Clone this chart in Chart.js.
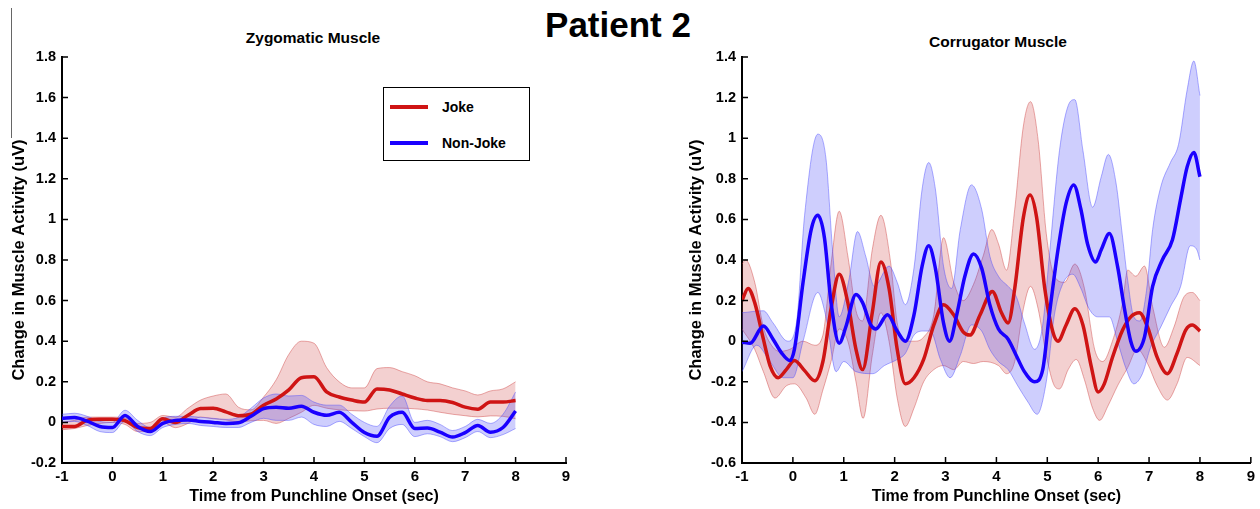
<!DOCTYPE html>
<html>
<head>
<meta charset="utf-8">
<script src="https://cdn.jsdelivr.net/npm/chart.js@4.4.0/dist/chart.umd.min.js"></script>
<style>
  body { margin: 0; width: 1260px; height: 509px; position: relative; overflow: hidden; background: #fff;
         font-family: "Liberation Sans", Arial, sans-serif; color: #000; }
  .abs { position: absolute; }
  #mainTitle { left: 0; width: 1236px; top: 4px; text-align: center; font-weight: bold; font-size: 35px; line-height: 42px; }
  .sub { width: 240px; text-align: center; font-weight: bold; font-size: 15.5px; line-height: 18px; }
  #legend { left: 383px; top: 87px; width: 145px; height: 72px; border: 1.5px solid #000; background: #fff; }
  .item { position: absolute; left: 0; height: 16px; font-weight: bold; font-size: 14px; line-height: 16px; }
  .swatch { position: absolute; left: 6px; top: 6px; width: 38px; height: 4px; }
  .item span { position: absolute; left: 58px; top: 0; white-space: nowrap; }
  #edge { left: 11px; top: 8px; width: 1px; height: 130px; background: #666; }
</style>
</head>
<body>
<div id="edge" class="abs"></div>
<div id="mainTitle" class="abs">Patient 2</div>
<div class="abs sub" style="left:193px; top:29px;">Zygomatic Muscle</div>
<div class="abs sub" style="left:878px; top:33px;">Corrugator Muscle</div>
<div class="abs" style="left:0; top:0; width:620px; height:509px;"><canvas id="zyg"></canvas></div>
<div class="abs" style="left:630px; top:0; width:630px; height:509px;"><canvas id="corr"></canvas></div>
<div id="legend" class="abs"></div>
<script>
// zygomatic muscle (left), sampled every 0.25 s
var zygTime = [-1,-0.75,-0.5,-0.25,0,0.25,0.5,0.75,1,1.25,1.5,1.75,2,2.25,2.5,2.75,3,3.25,3.5,3.75,4,4.25,4.5,4.75,5,5.25,5.5,5.75,6,6.25,6.5,6.75,7,7.25,7.5,7.75,8];
var zygJokeMean = [-0.02,-0.02,0.01,0.015,0.015,0.008,-0.025,-0.03,0.018,0.0,0.035,0.068,0.07,0.052,0.033,0.04,0.085,0.115,0.16,0.22,0.225,0.15,0.125,0.11,0.1,0.165,0.16,0.14,0.12,0.108,0.108,0.098,0.075,0.065,0.1,0.1,0.108];
var zygJokeUpper = [0.0,0.01,0.026,0.026,0.026,0.022,-0.005,0.0,0.034,0.026,0.07,0.11,0.13,0.14,0.075,0.062,0.125,0.21,0.335,0.4,0.39,0.27,0.2,0.17,0.17,0.265,0.27,0.25,0.23,0.2,0.19,0.17,0.155,0.135,0.155,0.165,0.2];
var zygJokeLower = [-0.036,-0.03,-0.015,-0.005,0.0,-0.01,-0.045,-0.045,0.0,-0.026,-0.005,0.026,0.018,0.012,0.002,0.008,0.01,-0.005,0.02,0.05,0.084,0.07,0.062,0.058,0.056,0.066,0.07,0.07,0.067,0.061,0.05,0.04,0.033,0.027,0.032,0.03,0.018];
var zygNonMean = [0.02,0.024,0.006,-0.02,-0.025,0.034,-0.02,-0.045,-0.005,0.01,0.012,0.005,0.0,-0.005,-0.002,0.03,0.068,0.075,0.07,0.08,0.05,0.035,0.05,0.0,-0.05,-0.068,0.025,0.05,-0.03,-0.028,-0.048,-0.072,-0.05,-0.015,-0.048,-0.025,0.056];
var zygNonUpper = [0.04,0.045,0.03,0.005,0.0,0.06,0.01,-0.025,0.02,0.03,0.03,0.025,0.02,0.015,0.025,0.07,0.12,0.14,0.13,0.133,0.1,0.085,0.085,0.04,0.0,-0.02,0.08,0.13,0.0,0.01,-0.01,-0.04,-0.02,0.015,-0.005,0.04,0.15];
var zygNonLower = [0.0,0.005,-0.015,-0.045,-0.05,0.005,-0.045,-0.065,-0.025,-0.01,-0.005,-0.015,-0.02,-0.025,-0.025,0.0,0.02,0.01,0.01,0.026,-0.01,-0.02,0.005,-0.03,-0.07,-0.1,-0.03,-0.01,-0.07,-0.056,-0.07,-0.095,-0.075,-0.045,-0.075,-0.06,-0.03];

// corrugator muscle (right), read at the turning points of each curve
var corrJokeT = [-1,-0.88,-0.75,-0.58,-0.45,-0.29,-0.13,0.03,0.23,0.43,0.59,0.75,0.91,1.08,1.24,1.37,1.56,1.73,1.89,2.05,2.21,2.38,2.57,2.77,2.96,3.16,3.35,3.48,3.68,3.92,4.1,4.23,4.36,4.53,4.66,4.79,4.95,5.11,5.21,5.37,5.54,5.7,5.86,6.0,6.12,6.28,6.48,6.64,6.81,6.97,7.16,7.36,7.55,7.72,7.85,8.0];
var corrJokeMean = [0.2,0.26,0.19,0.01,-0.12,-0.18,-0.14,-0.095,-0.145,-0.195,-0.1,0.16,0.33,0.19,-0.04,-0.14,0.14,0.39,0.26,-0.04,-0.21,-0.18,-0.09,0.08,0.18,0.13,0.045,0.03,0.13,0.245,0.14,0.09,0.26,0.61,0.72,0.61,0.26,0.045,0.0,0.08,0.16,0.08,-0.12,-0.25,-0.21,-0.08,0.055,0.12,0.14,0.07,-0.08,-0.16,-0.06,0.055,0.08,0.05];
var corrJokeUpT = [-1,-0.93,-0.75,-0.58,-0.42,-0.26,-0.06,0.2,0.43,0.59,0.75,0.91,1.08,1.24,1.37,1.56,1.73,1.92,2.05,2.21,2.38,2.57,2.77,2.96,3.16,3.35,3.55,3.74,3.91,4.04,4.2,4.36,4.53,4.67,4.82,4.98,5.14,5.34,5.54,5.73,5.93,6.09,6.28,6.48,6.58,6.74,6.91,7.07,7.3,7.49,7.69,7.85,8.0];
var corrJokeUp = [0.38,0.4,0.29,0.07,-0.02,-0.05,-0.04,0.0,-0.02,0.03,0.38,0.64,0.42,0.15,0.1,0.45,0.62,0.39,0.09,0.0,0.0,0.02,0.13,0.51,0.29,0.2,0.28,0.42,0.55,0.48,0.35,0.65,1.06,1.18,0.99,0.53,0.32,0.29,0.38,0.26,-0.04,-0.1,0.0,0.19,0.35,0.32,0.37,0.17,-0.03,0.07,0.22,0.24,0.2];
var corrJokeLoT = [-1,-0.75,-0.58,-0.35,-0.13,0.03,0.26,0.43,0.59,0.75,0.91,1.08,1.24,1.38,1.56,1.73,1.89,2.05,2.21,2.38,2.57,2.77,2.96,3.16,3.35,3.55,3.74,4.04,4.2,4.36,4.53,4.67,4.82,4.98,5.14,5.24,5.41,5.57,5.73,5.89,6.03,6.19,6.38,6.58,6.77,6.97,7.16,7.36,7.55,7.75,8.0];
var corrJokeLo = [0.06,-0.04,-0.15,-0.28,-0.22,-0.21,-0.28,-0.36,-0.24,-0.1,0.06,0.0,-0.2,-0.38,-0.07,0.14,0.0,-0.28,-0.42,-0.33,-0.2,-0.14,-0.12,-0.14,-0.1,-0.11,-0.1,-0.12,-0.16,-0.1,0.16,0.27,0.16,-0.07,-0.22,-0.235,-0.14,-0.09,-0.19,-0.33,-0.39,-0.32,-0.22,-0.13,-0.04,-0.11,-0.22,-0.29,-0.21,-0.08,-0.12];
var corrNonT = [-1,-0.84,-0.58,-0.39,-0.23,-0.06,0.03,0.2,0.36,0.49,0.62,0.75,0.91,1.04,1.24,1.37,1.53,1.63,1.86,2.05,2.21,2.38,2.54,2.67,2.8,2.96,3.08,3.22,3.38,3.55,3.71,3.87,4.04,4.23,4.39,4.55,4.75,4.91,5.04,5.21,5.37,5.52,5.66,5.79,5.95,6.06,6.22,6.38,6.51,6.64,6.74,6.91,7.07,7.26,7.46,7.62,7.75,7.88,8.0];
var corrNonMean = [-0.005,-0.01,0.075,0.01,-0.055,-0.095,-0.04,0.29,0.55,0.62,0.51,0.19,-0.01,0.07,0.23,0.19,0.08,0.06,0.13,0.05,0.0,0.13,0.37,0.47,0.36,0.09,0.0,0.13,0.32,0.43,0.36,0.18,0.06,0.01,-0.07,-0.15,-0.2,-0.14,0.13,0.45,0.68,0.77,0.65,0.48,0.39,0.45,0.53,0.37,0.17,0.0,-0.05,0.02,0.27,0.4,0.5,0.7,0.86,0.93,0.81];
var corrNonUpT = [-1,-0.58,-0.39,-0.1,0.07,0.23,0.49,0.65,0.78,0.91,1.1,1.27,1.43,1.6,1.89,2.05,2.21,2.38,2.54,2.67,2.8,2.96,3.12,3.29,3.51,3.71,3.87,4.04,4.23,4.39,4.55,4.75,4.91,5.04,5.24,5.41,5.54,5.7,5.89,6.06,6.2,6.35,6.48,6.58,6.7,6.82,6.95,7.07,7.23,7.42,7.58,7.75,7.88,8.0];
var corrNonUp = [0.14,0.15,0.09,0.0,0.09,0.62,1.02,0.9,0.45,0.12,0.3,0.54,0.42,0.27,0.37,0.29,0.18,0.36,0.75,0.88,0.75,0.37,0.26,0.55,0.77,0.65,0.42,0.32,0.27,0.22,0.09,-0.04,0.08,0.42,0.94,1.16,1.19,0.94,0.66,0.81,0.92,0.78,0.51,0.3,0.12,0.1,0.25,0.55,0.76,0.88,0.97,1.24,1.38,1.21];
var corrNonLoT = [-1,-0.71,-0.45,-0.19,0.0,0.2,0.49,0.65,0.85,1.0,1.24,1.57,1.8,2.05,2.21,2.38,2.57,2.7,2.9,3.09,3.29,3.51,3.71,3.87,4.04,4.23,4.42,4.62,4.8,4.98,5.14,5.3,5.5,5.66,5.82,5.99,6.22,6.38,6.54,6.7,6.87,7.03,7.23,7.42,7.62,7.81,7.94,8.0];
var corrNonLo = [-0.15,-0.02,-0.1,-0.18,-0.18,0.0,0.24,0.12,-0.15,-0.1,-0.15,-0.16,-0.12,-0.09,-0.06,0.03,0.05,0.05,-0.09,-0.18,-0.07,0.08,0.05,-0.04,-0.1,-0.14,-0.22,-0.3,-0.36,-0.2,0.13,0.28,0.33,0.26,0.16,0.12,0.12,0.0,-0.13,-0.21,-0.16,-0.03,0.07,0.17,0.27,0.47,0.45,0.4];

var RED = '#cf1414';
var BLUE = '#1a00ff';
var RED_FILL = 'rgba(205,60,60,0.24)';
var BLUE_FILL = 'rgba(50,50,245,0.24)';
var RED_EDGE = 'rgba(205,60,60,0.55)';
var BLUE_EDGE = 'rgba(70,70,255,0.55)';

var legendItems = [
    { label: 'Joke', color: RED },
    { label: 'Non-Joke', color: BLUE }
];

Chart.defaults.font.family = '"Liberation Sans", Arial, sans-serif';
Chart.defaults.color = '#000';

function toXY(t, v) {
    return t.map(function (x, i) { return { x: x, y: v[i] }; });
}

// matlab style ticks pointing into the plot
const inwardTicks = {
    id: 'inwardTicks',
    afterDraw(chart) {
        const ctx = chart.ctx;
        const x = chart.scales.x, y = chart.scales.y;
        ctx.save();
        ctx.strokeStyle = '#000';
        ctx.lineWidth = 1.5;
        ctx.beginPath();
        x.ticks.forEach(function (t) {
            var px = x.getPixelForValue(t.value);
            ctx.moveTo(px, y.bottom);
            ctx.lineTo(px, y.bottom - 6);
        });
        y.ticks.forEach(function (t) {
            var py = y.getPixelForValue(t.value);
            ctx.moveTo(x.left, py);
            ctx.lineTo(x.left + 6, py);
        });
        ctx.stroke();
        ctx.restore();
    }
};

function makeChart(id, yMin, yMax, s, pad, yTitlePad) {
    var line = function (label, data, color, width, fill, bg) {
        return {
            label: label, data: data, borderColor: color, borderWidth: width,
            backgroundColor: bg || 'transparent', fill: fill,
            pointRadius: 0, cubicInterpolationMode: 'monotone'
        };
    };
    return new Chart(document.getElementById(id), {
        type: 'line',
        data: {
            datasets: [
                line('Non-Joke', s.nonMean, BLUE, 3.5, false),
                line('Joke', s.jokeMean, RED, 3.5, false),
                line('Non-Joke upper', s.nonUp, BLUE_EDGE, 0.8, '+1', BLUE_FILL),
                line('Non-Joke lower', s.nonLo, BLUE_EDGE, 0.8, false),
                line('Joke upper', s.jokeUp, RED_EDGE, 0.8, '+1', RED_FILL),
                line('Joke lower', s.jokeLo, RED_EDGE, 0.8, false)
            ]
        },
        options: {
            responsive: true,
            maintainAspectRatio: false,
            animation: false,
            layout: { padding: pad },
            plugins: { legend: { display: false }, tooltip: { enabled: false } },
            scales: {
                x: {
                    type: 'linear', min: -1, max: 9,
                    ticks: { stepSize: 1, padding: 5, autoSkip: false, maxRotation: 0,
                             font: { size: 15, weight: 'bold' } },
                    grid: { drawOnChartArea: false, drawTicks: false },
                    border: { color: '#000', width: 2 },
                    title: { display: true, text: 'Time from Punchline Onset (sec)',
                             font: { size: 16, weight: 'bold' }, padding: { top: 0, bottom: 3 } },
                    afterFit: function (scale) { scale.height = 46; }
                },
                y: {
                    min: yMin, max: yMax,
                    ticks: { stepSize: 0.2, padding: 6, font: { size: 14.5, weight: 'bold' },
                             callback: function (v) { return String(Math.round(v * 10) / 10); } },
                    grid: { drawOnChartArea: false, drawTicks: false },
                    border: { color: '#000', width: 2 },
                    title: { display: true, text: 'Change in Muscle Activity (uV)',
                             font: { size: 16.5, weight: 'bold' }, padding: { top: yTitlePad, bottom: 0 } },
                    afterFit: function (scale) { scale.width = 62; }
                }
            }
        },
        plugins: [inwardTicks]
    });
}

makeChart('zyg', -0.2, 1.8, {
    jokeMean: toXY(zygTime, zygJokeMean),
    jokeUp: toXY(zygTime, zygJokeUpper),
    jokeLo: toXY(zygTime, zygJokeLower),
    nonMean: toXY(zygTime, zygNonMean),
    nonUp: toXY(zygTime, zygNonUpper),
    nonLo: toXY(zygTime, zygNonLower)
}, { top: 57, right: 54, left: 0, bottom: 0 }, 10);

makeChart('corr', -0.6, 1.4, {
    jokeMean: toXY(corrJokeT, corrJokeMean),
    jokeUp: toXY(corrJokeUpT, corrJokeUp),
    jokeLo: toXY(corrJokeLoT, corrJokeLo),
    nonMean: toXY(corrNonT, corrNonMean),
    nonUp: toXY(corrNonUpT, corrNonUp),
    nonLo: toXY(corrNonLoT, corrNonLo)
}, { top: 57, right: 6, left: 50, bottom: 0 }, 7);

// legend box for the left plot
var legend = document.getElementById('legend');
legendItems.forEach(function (it, i) {
    var row = document.createElement('div');
    row.className = 'item';
    row.style.top = (11 + i * 36) + 'px';
    row.style.width = '145px';
    row.innerHTML = '<div class="swatch" style="background:' + it.color + '"></div><span>' + it.label + '</span>';
    legend.appendChild(row);
});
</script>
</body>
</html>
